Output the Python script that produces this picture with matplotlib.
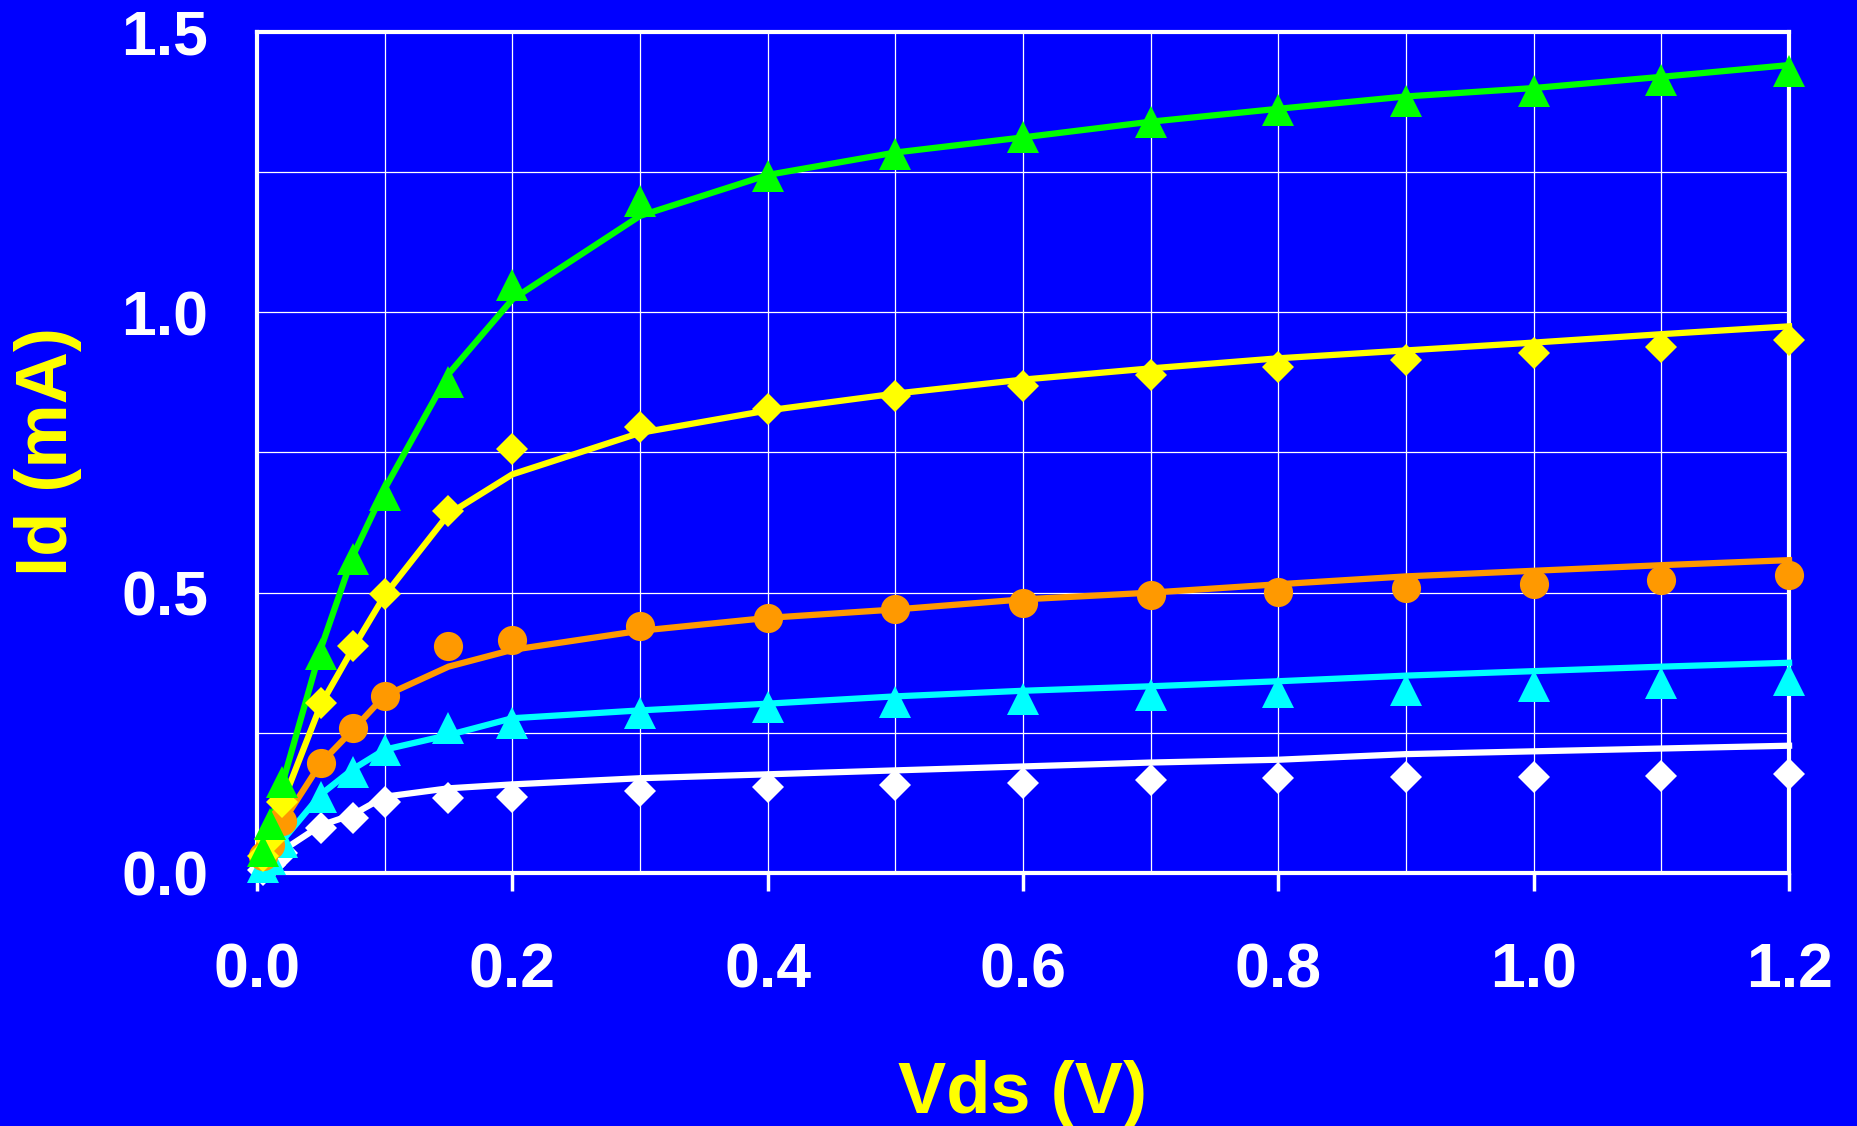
import matplotlib
matplotlib.use("Agg")
import matplotlib.pyplot as plt
from matplotlib.ticker import MultipleLocator

plt.rcParams['font.family'] = ['Liberation Sans', 'DejaVu Sans']
plt.rcParams['font.weight'] = 'bold'

# Drain voltage sweep (V)
vds = [0.005, 0.01, 0.02, 0.05, 0.075, 0.1, 0.15, 0.2, 0.3, 0.4,
       0.5, 0.6, 0.7, 0.8, 0.9, 1.0, 1.1, 1.2]

# Measured drain current (mA), markers
meas_green = [0.04, 0.087, 0.162, 0.39, 0.56, 0.675, 0.876, 1.049, 1.199, 1.244,
              1.282, 1.312, 1.339, 1.360, 1.377, 1.395, 1.415, 1.431]
meas_yellow = [0.03, 0.06, 0.127, 0.303, 0.405, 0.498, 0.645, 0.757, 0.795, 0.827,
               0.850, 0.869, 0.888, 0.903, 0.915, 0.927, 0.938, 0.951]
meas_orange = [0.03, 0.05, 0.092, 0.196, 0.258, 0.316, 0.405, 0.416, 0.44, 0.455,
               0.47, 0.482, 0.495, 0.501, 0.508, 0.515, 0.523, 0.531]
meas_cyan = [0.01, 0.025, 0.056, 0.136, 0.181, 0.22, 0.258, 0.267, 0.286, 0.296,
             0.305, 0.311, 0.317, 0.322, 0.326, 0.333, 0.338, 0.344]
meas_white = [0.005, 0.015, 0.035, 0.08, 0.098, 0.127, 0.133, 0.135, 0.146, 0.154,
              0.157, 0.161, 0.165, 0.169, 0.171, 0.172, 0.173, 0.176]

# Simulated drain current (mA), lines
sim_green = [0.04, 0.085, 0.16, 0.40, 0.565, 0.685, 0.89, 1.023, 1.172, 1.245,
             1.285, 1.312, 1.34, 1.363, 1.385, 1.40, 1.42, 1.441]
sim_yellow = [0.03, 0.06, 0.125, 0.30, 0.40, 0.495, 0.64, 0.711, 0.785, 0.825,
              0.855, 0.88, 0.90, 0.918, 0.932, 0.946, 0.961, 0.975]
sim_orange = [0.03, 0.05, 0.09, 0.196, 0.255, 0.316, 0.368, 0.398, 0.432, 0.455,
              0.47, 0.488, 0.50, 0.515, 0.529, 0.539, 0.549, 0.558]
sim_cyan = [0.01, 0.025, 0.058, 0.14, 0.185, 0.22, 0.246, 0.276, 0.29, 0.302,
            0.315, 0.325, 0.333, 0.342, 0.352, 0.36, 0.368, 0.375]
sim_white = [0.01, 0.02, 0.04, 0.085, 0.104, 0.136, 0.151, 0.158, 0.169, 0.176,
             0.183, 0.19, 0.197, 0.202, 0.212, 0.217, 0.222, 0.227]

BG = '#0000FF'

series = [
    (sim_white, meas_white, '#FFFFFF', 'D', 16),
    (sim_cyan, meas_cyan, '#00FFFF', '^', 23),
    (sim_orange, meas_orange, '#FF9900', 'o', 21),
    (sim_yellow, meas_yellow, '#FFFF00', 'D', 16),
    (sim_green, meas_green, '#00FF00', '^', 23),
]

fig = plt.figure(figsize=(18.58, 11.26), dpi=100, facecolor=BG)
ax = fig.add_axes([0.1383, 0.2247, 0.8246, 0.7469])
ax.set_facecolor(BG)

# simulation lines first, measured markers on top
for sim, meas, color, marker, ms in series:
    ax.plot(vds, sim, color=color, linewidth=4.5, zorder=3, clip_on=False)
for sim, meas, color, marker, ms in series:
    ax.plot(vds, meas, linestyle='none', marker=marker, markersize=ms,
            color=color, markeredgewidth=0, zorder=4, clip_on=False)

ax.set_xlim(0, 1.2)
ax.set_ylim(0, 1.5)

ax.xaxis.set_major_locator(MultipleLocator(0.2))
ax.xaxis.set_minor_locator(MultipleLocator(0.1))
ax.yaxis.set_major_locator(MultipleLocator(0.5))
ax.yaxis.set_minor_locator(MultipleLocator(0.25))
ax.xaxis.set_major_formatter(plt.FuncFormatter(lambda v, p: f"{v:.1f}"))
ax.yaxis.set_major_formatter(plt.FuncFormatter(lambda v, p: f"{v:.1f}"))

ax.grid(True, which='both', color='white', linewidth=0.9, zorder=1)
ax.set_axisbelow(True)

ax.tick_params(axis='x', which='major', direction='out', length=13, width=2.5,
               color='white', pad=36, labelsize=45, labelcolor='white')
ax.tick_params(axis='x', which='minor', length=0)
ax.tick_params(axis='y', which='both', length=0, pad=35, labelsize=45,
               labelcolor='white')

for spine in ax.spines.values():
    spine.set_color('white')
    spine.set_linewidth(3)
    spine.set_zorder(2)

fig.text(1023 / 1858, 1 - 1113 / 1126, 'Vds (V)', color='#FFFF00', fontsize=52,
         fontweight='bold', ha='center', va='baseline')
fig.text(48 / 1858, 1 - 452 / 1126, 'Id (mA)', color='#FFFF00', fontsize=52,
         fontweight='bold', ha='center', va='center', rotation=90)

fig.savefig('out.png', dpi=100, facecolor=BG)
